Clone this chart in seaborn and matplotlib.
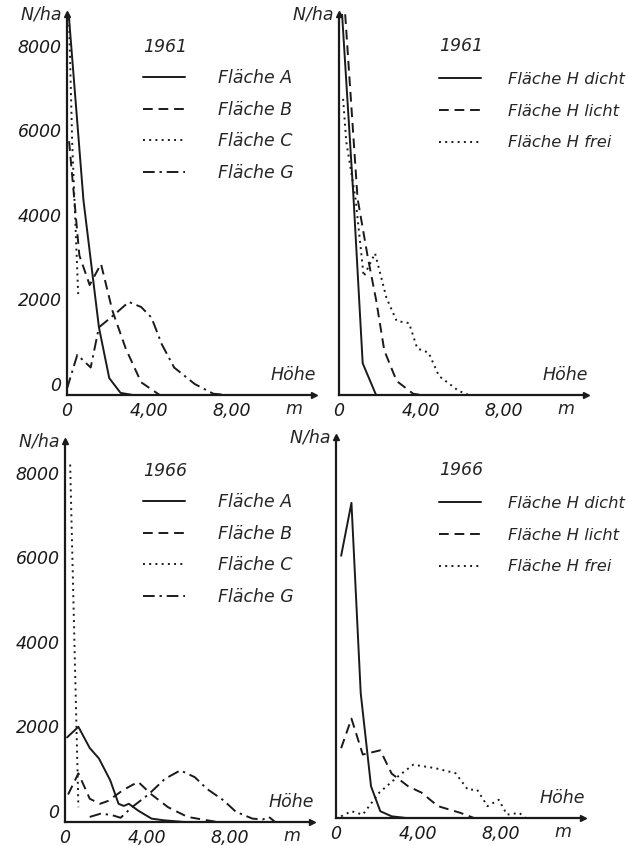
import numpy as np
import pandas as pd
import matplotlib
matplotlib.use("Agg")
import matplotlib.pyplot as plt
import seaborn as sns

# ---- data: height (m) and stems per hectare ----
# 1961, Flächen A/B/C/G
h61_A = [0.1, 0.8, 1.55, 2.05, 2.6, 3.2]
n61_A = [8900, 4600, 1600, 400, 50, 0]
h61_B = [0.1, 0.6, 1.1, 1.65, 2.2, 2.85, 3.6, 4.5]
n61_B = [6000, 3300, 2600, 3100, 2000, 1100, 300, 0]
h61_C = [0.1, 0.25, 0.55]
n61_C = [8900, 6000, 2300]
h61_G = [0.0, 0.5, 1.15, 1.55, 2.3, 3.0, 3.6, 4.1, 4.6, 5.2, 6.2, 7.1, 7.8]
n61_G = [150, 950, 650, 1600, 1900, 2200, 2080, 1830, 1200, 650, 260, 30, 0]

# 1961, Fläche H
h61_dicht = [0.15, 0.7, 1.15, 1.8]
n61_dicht = [9000, 4700, 750, 0]
h61_licht = [0.3, 0.9, 1.4, 1.8, 2.2, 2.8, 3.6, 4.0]
n61_licht = [9000, 4650, 3250, 2250, 1050, 330, 30, 0]
h61_frei = [0.2, 0.35, 0.8, 1.2, 1.75, 2.3, 2.8, 3.4, 3.8, 4.35, 4.85, 5.8, 6.3]
n61_frei = [7000, 6000, 4650, 2800, 3350, 2300, 1750, 1700, 1100, 1000, 450, 100, 0]

# 1966, Flächen A/B/C/G
h66_A = [0.1, 0.65, 1.2, 1.65, 2.2, 2.6, 2.85, 3.1, 3.55, 4.2, 4.8, 5.8]
n66_A = [2000, 2250, 1750, 1500, 980, 430, 380, 430, 270, 80, 40, 0]
h66_B = [0.15, 0.65, 1.2, 1.7, 2.1, 2.8, 3.55, 4.2, 5.0, 5.95, 6.9, 7.4]
n66_B = [650, 1150, 550, 430, 500, 750, 950, 650, 350, 120, 40, 0]
h66_C = [0.25, 0.65]
n66_C = [8450, 350]
h66_G = [1.2, 1.75, 2.3, 2.7, 3.25, 4.05, 4.85, 5.6, 6.3, 6.9, 7.7, 8.3, 9.1, 9.6, 9.9, 10.2]
n66_G = [120, 200, 160, 100, 350, 650, 1020, 1220, 1060, 780, 510, 240, 80, 60, 120, 0]

# 1966, Fläche H
h66_dicht = [0.25, 0.75, 1.2, 1.7, 2.15, 2.7, 3.4]
n66_dicht = [6200, 7450, 2950, 750, 160, 40, 0]
h66_licht = [0.25, 0.75, 1.3, 2.15, 2.7, 3.5, 4.15, 4.95, 6.05, 6.7]
n66_licht = [1650, 2350, 1500, 1600, 1050, 750, 600, 280, 120, 0]
h66_frei = [0.25, 0.75, 1.3, 2.1, 3.05, 3.75, 4.8, 5.8, 6.4, 6.85, 7.35, 7.9, 8.3, 8.9, 9.2]
n66_frei = [40, 160, 80, 600, 1000, 1260, 1180, 1060, 670, 670, 280, 430, 80, 120, 0]

y_ticks = [0, 1000, 2000, 3000, 4000, 5000, 6000, 7000, 8000]
y_labels = ["0", "", "2000", "", "4000", "", "6000", "", "8000"]
x_ticks = [0, 2, 4, 6, 8, 10]
x_labels = ["0", "", "4,00", "", "8,00", ""]

sns.set_theme(style="white")
plt.rcParams["font.family"] = ["DejaVu Sans"]
plt.rcParams["font.style"] = "italic"

W, H = 628, 846
PX_M = 20.6      # pixels per metre
PX_K = 42.3      # pixels per 1000 N/ha
FS = 12.5

SOLID = "-"
DASH = (0, (5, 3))
DOT = (0, (1, 2.2))
DASHDOT = (0, (6, 2.5, 1.2, 2.5))

fig = plt.figure(figsize=(W / 100, H / 100), dpi=100)


def make_axes(x0, y0, left_labels):
    # x0, y0 = pixel position of the origin
    w = 12 * PX_M
    h = 9 * PX_K
    ax = fig.add_axes([x0 / W, 1 - y0 / H, w / W, h / H])
    ax.set_xlim(0, 12)
    ax.set_ylim(0, 9000)
    for s in ["top", "right"]:
        ax.spines[s].set_visible(False)
    for s in ["left", "bottom"]:
        ax.spines[s].set_linewidth(1.6)
        ax.spines[s].set_color("k")
    ax.plot(1, 0, ">k", transform=ax.transAxes, clip_on=False, markersize=5)
    ax.plot(0, 1, "^k", transform=ax.transAxes, clip_on=False, markersize=5)
    ax.set_yticks(y_ticks)
    ax.set_yticklabels(y_labels if left_labels else [""] * len(y_ticks),
                       fontsize=FS, va="bottom")
    ax.set_xticks(x_ticks)
    ax.set_xticklabels(x_labels, fontsize=FS)
    ax.tick_params(direction="in", length=4, width=1.2, colors="k", pad=4)
    ax.tick_params(axis="x", pad=5)
    ax.text(0, 1.0, "N/ha ", transform=ax.transAxes, ha="right", va="center",
            fontsize=FS)
    ax.text(11.0, -130, "m", ha="center", va="top", fontsize=FS)
    ax.text(12.1, 250, "Höhe", ha="right", va="bottom", fontsize=FS)
    return ax


def draw(ax, series, year, leg_left, leg_top, fs=FS, spacing=0.78, pad_px=33):
    for x, y, ls, lab in series:
        df = pd.DataFrame({"Höhe": x, "N": y})
        sns.lineplot(data=df, x="Höhe", y="N", ax=ax, color="k", linestyle=ls,
                     lw=1.4, label=lab)
    ax.set_xlabel("")
    ax.set_ylabel("")
    fs_px = fs * 100 / 72
    handles, labels = ax.get_legend_handles_labels()
    ax.legend(handles, labels, title=year, loc="upper left",
              bbox_to_anchor=(leg_left / W, 1 - leg_top / H),
              bbox_transform=fig.transFigure, frameon=False, borderpad=0,
              handlelength=42 / fs_px, handletextpad=pad_px / fs_px,
              labelspacing=spacing,
              alignment="left", fontsize=fs, title_fontsize=FS)


ax1 = make_axes(67, 395, True)
draw(ax1, [(h61_A, n61_A, SOLID, "Fläche A"),
           (h61_B, n61_B, DASH, "Fläche B"),
           (h61_C, n61_C, DOT, "Fläche C"),
           (h61_G, n61_G, DASHDOT, "Fläche G")], "1961", 134, 29)

ax2 = make_axes(339, 395, False)
draw(ax2, [(h61_dicht, n61_dicht, SOLID, "Fläche H dicht"),
           (h61_licht, n61_licht, DASH, "Fläche H licht"),
           (h61_frei, n61_frei, DOT, "Fläche H frei")], "1961", 431, 29,
     fs=11.8, spacing=1.02, pad_px=27)

ax3 = make_axes(65, 822, True)
draw(ax3, [(h66_A, n66_A, SOLID, "Fläche A"),
           (h66_B, n66_B, DASH, "Fläche B"),
           (h66_C, n66_C, DOT, "Fläche C"),
           (h66_G, n66_G, DASHDOT, "Fläche G")], "1966", 134, 453)

ax4 = make_axes(336, 818, False)
draw(ax4, [(h66_dicht, n66_dicht, SOLID, "Fläche H dicht"),
           (h66_licht, n66_licht, DASH, "Fläche H licht"),
           (h66_frei, n66_frei, DOT, "Fläche H frei")], "1966", 431, 453,
     fs=11.8, spacing=1.02, pad_px=27)

fig.savefig("out.png", dpi=100, facecolor="white")
